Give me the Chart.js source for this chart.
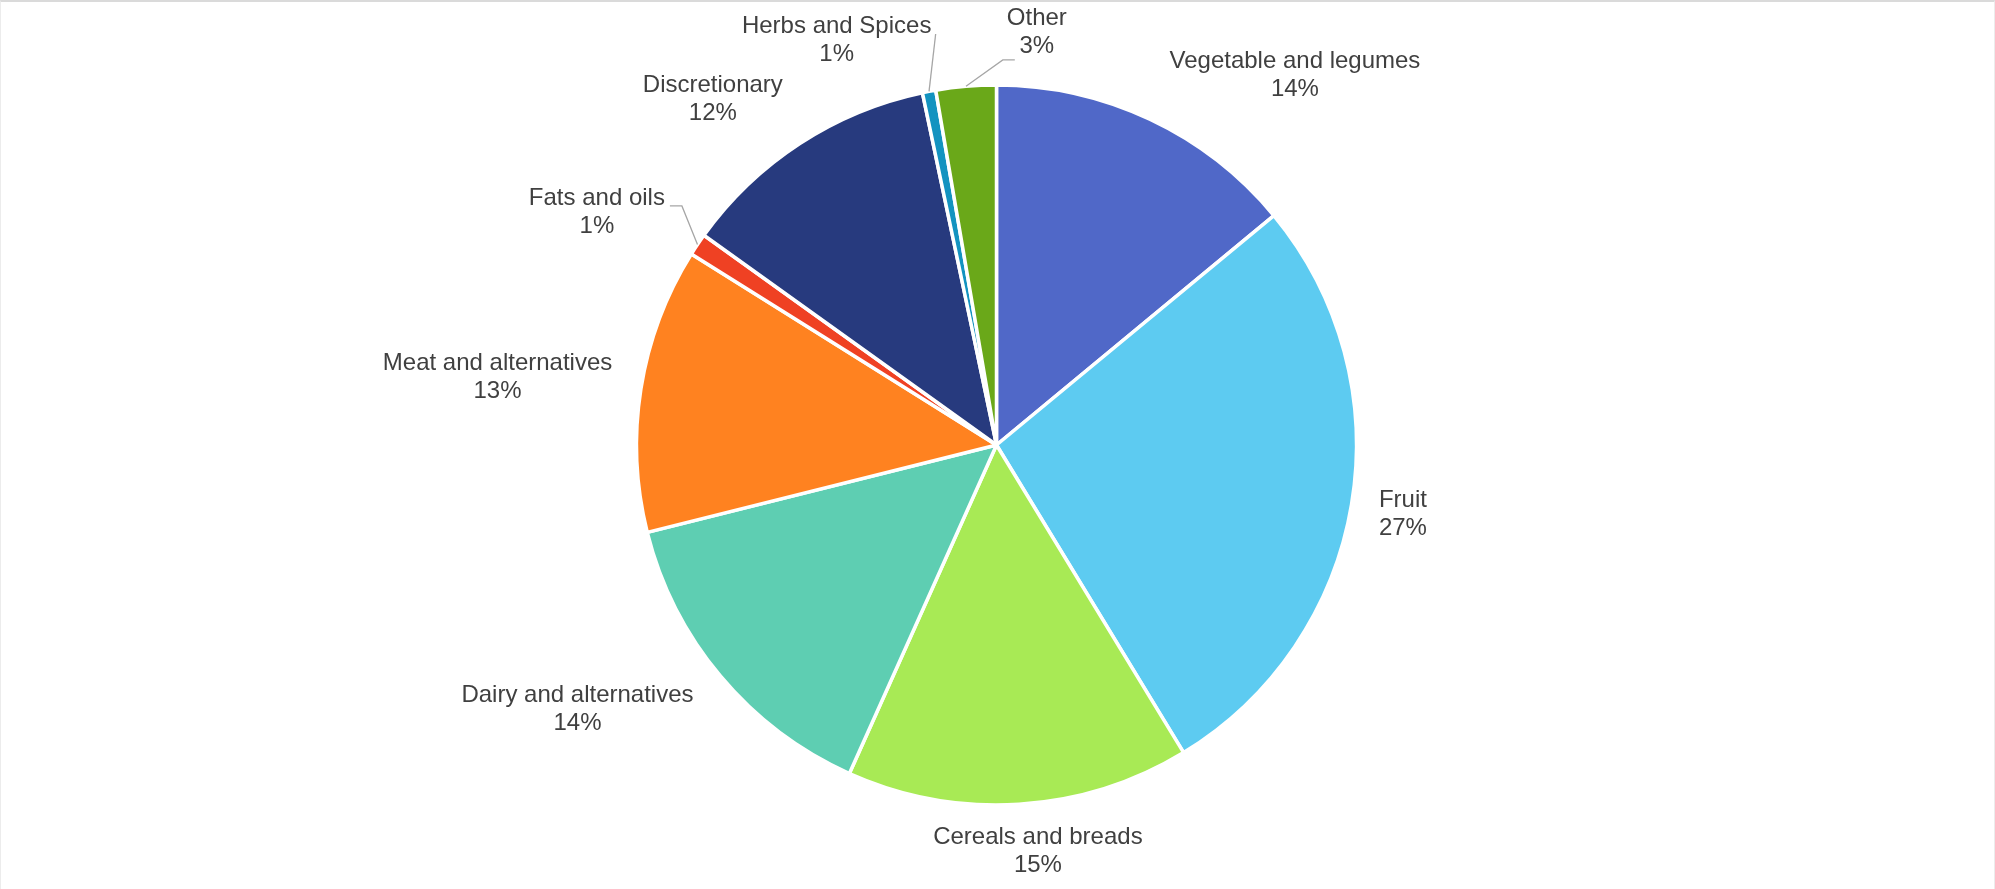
<!DOCTYPE html>
<html>
<head>
<meta charset="utf-8">
<title>Food group share</title>
<script src="https://cdn.jsdelivr.net/npm/chart.js@4.4.1/dist/chart.umd.min.js"></script>
<style>
    html, body { margin: 0; padding: 0; background: #fff; }
    .chart-wrap { position: relative; width: 1995px; height: 889px; }
    .chart-wrap canvas { position: absolute; left: 0; top: 0; }
    .frame {
        position: absolute; left: 0; top: 0; right: 0; bottom: 0;
        border-top: 2px solid #dadada;
        border-left: 1px solid #ececec;
        border-right: 1px solid #ececec;
        pointer-events: none;
    }
</style>
</head>
<body>
<div class="chart-wrap">
    <canvas id="foodChart" width="1995" height="889"></canvas>
    <div class="frame"></div>
</div>
<script>
// Share of each food group (percent)
const categories = [
    'Vegetable and legumes',
    'Fruit',
    'Cereals and breads',
    'Dairy and alternatives',
    'Meat and alternatives',
    'Fats and oils',
    'Discretionary',
    'Herbs and Spices',
    'Other'
];
const shares = [14.0, 27.3, 15.4, 14.4, 12.8, 1.0, 11.8, 0.6, 2.7];
const sliceColors = ['#5068c8', '#5dcbf1', '#a8ea55', '#5eceb2', '#ff8220', '#ef4123', '#273a7e', '#1393c0', '#6aa819'];

// Where each label block sits, as a fraction of the pie radius from the centre
const labelSpots = [
    [0.829, -1.027],
    [1.129, 0.192],
    [0.115, 1.128],
    [-1.164, 0.733],
    [-1.386, -0.188],
    [-1.110, -0.646],
    [-0.788, -0.961],
    [-0.444, -1.125],
    [0.112, -1.146]
];

// Leader lines for the thin slices: points in px from the label centre,
// the last segment runs to the slice edge
const leaders = {
    5: [[73, -6.5], [85, -6.5]],
    7: [[99, -6]],
    8: [[-22, 27.5], [-34, 27.5]]
};

const pieLabels = {
    id: 'pieLabels',
    afterDraw(chart) {
        const ctx = chart.ctx;
        const arcs = chart.getDatasetMeta(0).data;
        const values = chart.data.datasets[0].data;
        ctx.save();
        ctx.font = '24px "Liberation Sans", Arial, sans-serif';
        ctx.fillStyle = '#404040';
        ctx.textAlign = 'center';
        ctx.textBaseline = 'middle';
        arcs.forEach((arc, i) => {
            const p = arc.getProps(['x', 'y', 'startAngle', 'endAngle', 'outerRadius'], true);
            const r = p.outerRadius;
            const lx = p.x + labelSpots[i][0] * r;
            const ly = p.y + labelSpots[i][1] * r;
            ctx.fillText(chart.data.labels[i], lx, ly - 14);
            ctx.fillText(Math.round(values[i]) + '%', lx, ly + 14);

            if (leaders[i]) {
                const mid = (p.startAngle + p.endAngle) / 2;
                ctx.beginPath();
                ctx.strokeStyle = '#a6a6a6';
                ctx.lineWidth = 1.3;
                leaders[i].forEach((pt, k) => {
                    if (k === 0) ctx.moveTo(lx + pt[0], ly + pt[1]);
                    else ctx.lineTo(lx + pt[0], ly + pt[1]);
                });
                ctx.lineTo(p.x + Math.cos(mid) * r, p.y + Math.sin(mid) * r);
                ctx.stroke();
            }
        });
        ctx.restore();
    }
};

const foodCtx = document.getElementById('foodChart').getContext('2d');
new Chart(foodCtx, {
    type: 'pie',
    data: {
        labels: categories,
        datasets: [{
            data: shares,
            backgroundColor: sliceColors,
            borderColor: '#ffffff',
            borderWidth: 3.5,
            radius: 360
        }]
    },
    options: {
        responsive: false,
        animation: false,
        layout: { padding: { top: 1, right: 2, bottom: 0, left: 0 } },
        plugins: {
            legend: { display: false },
            tooltip: { enabled: false }
        }
    },
    plugins: [pieLabels]
});
</script>
</body>
</html>
